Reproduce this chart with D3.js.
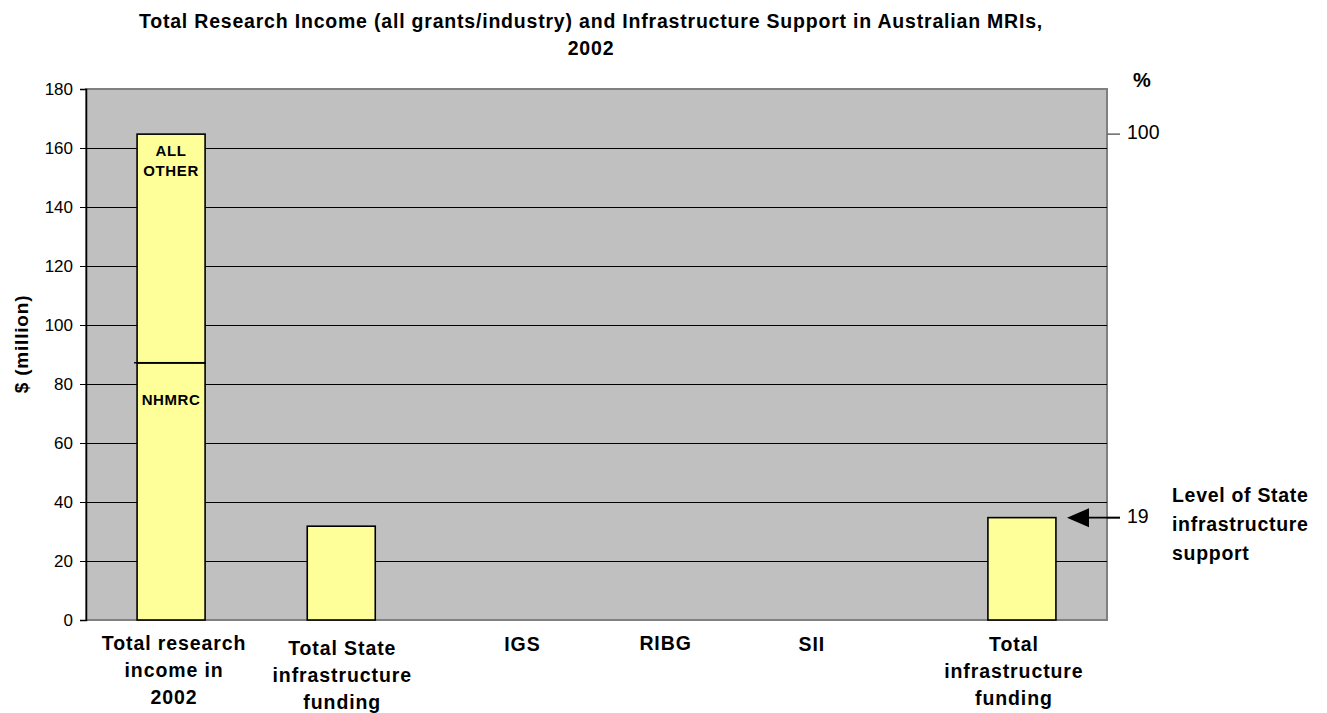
<!DOCTYPE html>
<html><head><meta charset="utf-8">
<script src="https://cdn.jsdelivr.net/npm/d3@7"></script>
<style>body{margin:0;background:#fff}svg{display:block}text{font-family:"Liberation Sans",Arial,sans-serif}</style>
</head><body><svg id="c" width="1327" height="713"></svg>
<script>
const categories = ["Total research income in 2002","Total State infrastructure funding","IGS","RIBG","SII","Total infrastructure funding"];
const categoryLines = [["Total research","income in","2002"],["Total State","infrastructure","funding"],["IGS"],["RIBG"],["SII"],["Total","infrastructure","funding"]];
const nhmrcValues = [87.2, 31.8, 0, 0, 0, 34.7];
const allOtherValues = [77.5, 0, 0, 0, 0, 0];
const segmentLabels = ["NHMRC","ALL OTHER"];
const yTicks = [0,20,40,60,80,100,120,140,160,180];
const rightTickLabels = ["100","19"];
const rightTickAt = [164.7, 34.7];
const noteLines = ["Level of State","infrastructure","support"];

const svg = d3.select("#c");
const L=86,R=1107,T=89,B=620;
const x = d3.scaleBand().domain(categories).range([L,R]).paddingInner(0.6).paddingOuter(0.3);
const y = d3.scaleLinear().domain([0,180]).range([B,T]);
const labelShift = [3,1,11,-16,-40,-8];
const labelBase = [650,655,651,650,651,651];

svg.append("rect").attr("x",L).attr("y",T).attr("width",R-L).attr("height",B-T).attr("fill","#C0C0C0").attr("stroke","#808080").attr("stroke-width",2);
svg.append("g").selectAll("line").data(yTicks.slice(1,-1)).join("line")
  .attr("x1",L).attr("x2",R).attr("y1",d=>Math.round(y(d))+0.5).attr("y2",d=>Math.round(y(d))+0.5).attr("stroke","#000").attr("stroke-width",1);

const yAxis = svg.append("g").attr("transform",`translate(${L},0)`).call(d3.axisLeft(y).tickValues(yTicks).tickSize(6).tickPadding(7));
yAxis.select(".domain").attr("stroke","#000").attr("stroke-width",1.5);
yAxis.selectAll("text").attr("font-size",17).attr("fill","#000").attr("font-family",'"Liberation Sans",Arial,sans-serif');

const rows = categories.map((c,i)=>({cat:c, nhmrc:nhmrcValues[i], other:allOtherValues[i]}));
const stack = d3.stack().keys(["nhmrc","other"])(rows);
const bw = x.bandwidth();
const segs = svg.append("g");
stack.forEach(s=>{
  segs.selectAll(null).data(s.filter(d=>d[1]-d[0]>0)).join("rect")
    .attr("x",d=>x(d.data.cat)+(bw-68)/2).attr("width",68)
    .attr("y",d=>y(d[1])).attr("height",d=>y(d[0])-y(d[1]))
    .attr("fill","#FFFF99").attr("stroke","#000").attr("stroke-width",1.6);
});
const c0 = categories[0];
const bx = x(c0)+(bw-68)/2;
svg.append("line").attr("x1",bx-3).attr("x2",bx+68).attr("y1",y(nhmrcValues[0])).attr("y2",y(nhmrcValues[0])).attr("stroke","#000").attr("stroke-width",1.6);
svg.append("text").attr("x",bx+34).attr("y",y(nhmrcValues[0])+42).attr("text-anchor","middle").attr("font-size",15).attr("letter-spacing",0.6).attr("font-weight","bold").text(segmentLabels[0]);
const ot = svg.append("text").attr("text-anchor","middle").attr("font-size",15).attr("letter-spacing",0.6).attr("font-weight","bold");
["ALL","OTHER"].forEach((w,i)=>ot.append("tspan").attr("x",bx+34).attr("y",y(nhmrcValues[0]+allOtherValues[0])+22+i*20).text(w));

const xl = svg.append("g");
categoryLines.forEach((lines,i)=>{
  const cx = x(categories[i])+bw/2+labelShift[i];
  const t = xl.append("text").attr("text-anchor","middle").attr("font-size",19.5).attr("letter-spacing",0.9).attr("font-weight","bold");
  lines.forEach((ln,j)=>t.append("tspan").attr("x",cx).attr("y",labelBase[i]+j*27).text(ln));
});

rightTickAt.forEach((v,i)=>{
  svg.append("line").attr("x1",R).attr("x2",R+13).attr("y1",y(v)).attr("y2",y(v)).attr("stroke",i===0?"#666":"#000").attr("stroke-width",1.5);
  svg.append("text").attr("x",R+20).attr("y",y(v)+5).attr("font-size",19.5).text(rightTickLabels[i]);
});
svg.append("text").attr("x",1142).attr("y",87).attr("text-anchor","middle").attr("font-size",20).attr("font-weight","bold").text("%");

const ay = y(rightTickAt[1]);
svg.append("line").attr("x1",1085).attr("x2",R+13).attr("y1",ay).attr("y2",ay).attr("stroke","#000").attr("stroke-width",1.8);
svg.append("path").attr("d",`M1067,${ay}L1089,${ay-9.5}L1089,${ay+9.5}Z`).attr("fill","#000");
const nt = svg.append("text").attr("font-size",19.5).attr("letter-spacing",0.7).attr("font-weight","bold");
noteLines.forEach((ln,j)=>nt.append("tspan").attr("x",1172).attr("y",ay-15.5+j*29).text(ln));

const tt = svg.append("text").attr("text-anchor","middle").attr("font-size",19.5).attr("letter-spacing",0.8).attr("font-weight","bold");
tt.append("tspan").attr("x",591).attr("y",28).text("Total Research Income (all grants/industry) and Infrastructure Support in Australian MRIs,");
tt.append("tspan").attr("x",591).attr("y",55).text("2002");

svg.append("text").attr("transform","translate(28,344) rotate(-90)").attr("text-anchor","middle").attr("font-size",19).attr("letter-spacing",0.8).attr("font-weight","bold").text("$ (million)");
</script></body></html>
